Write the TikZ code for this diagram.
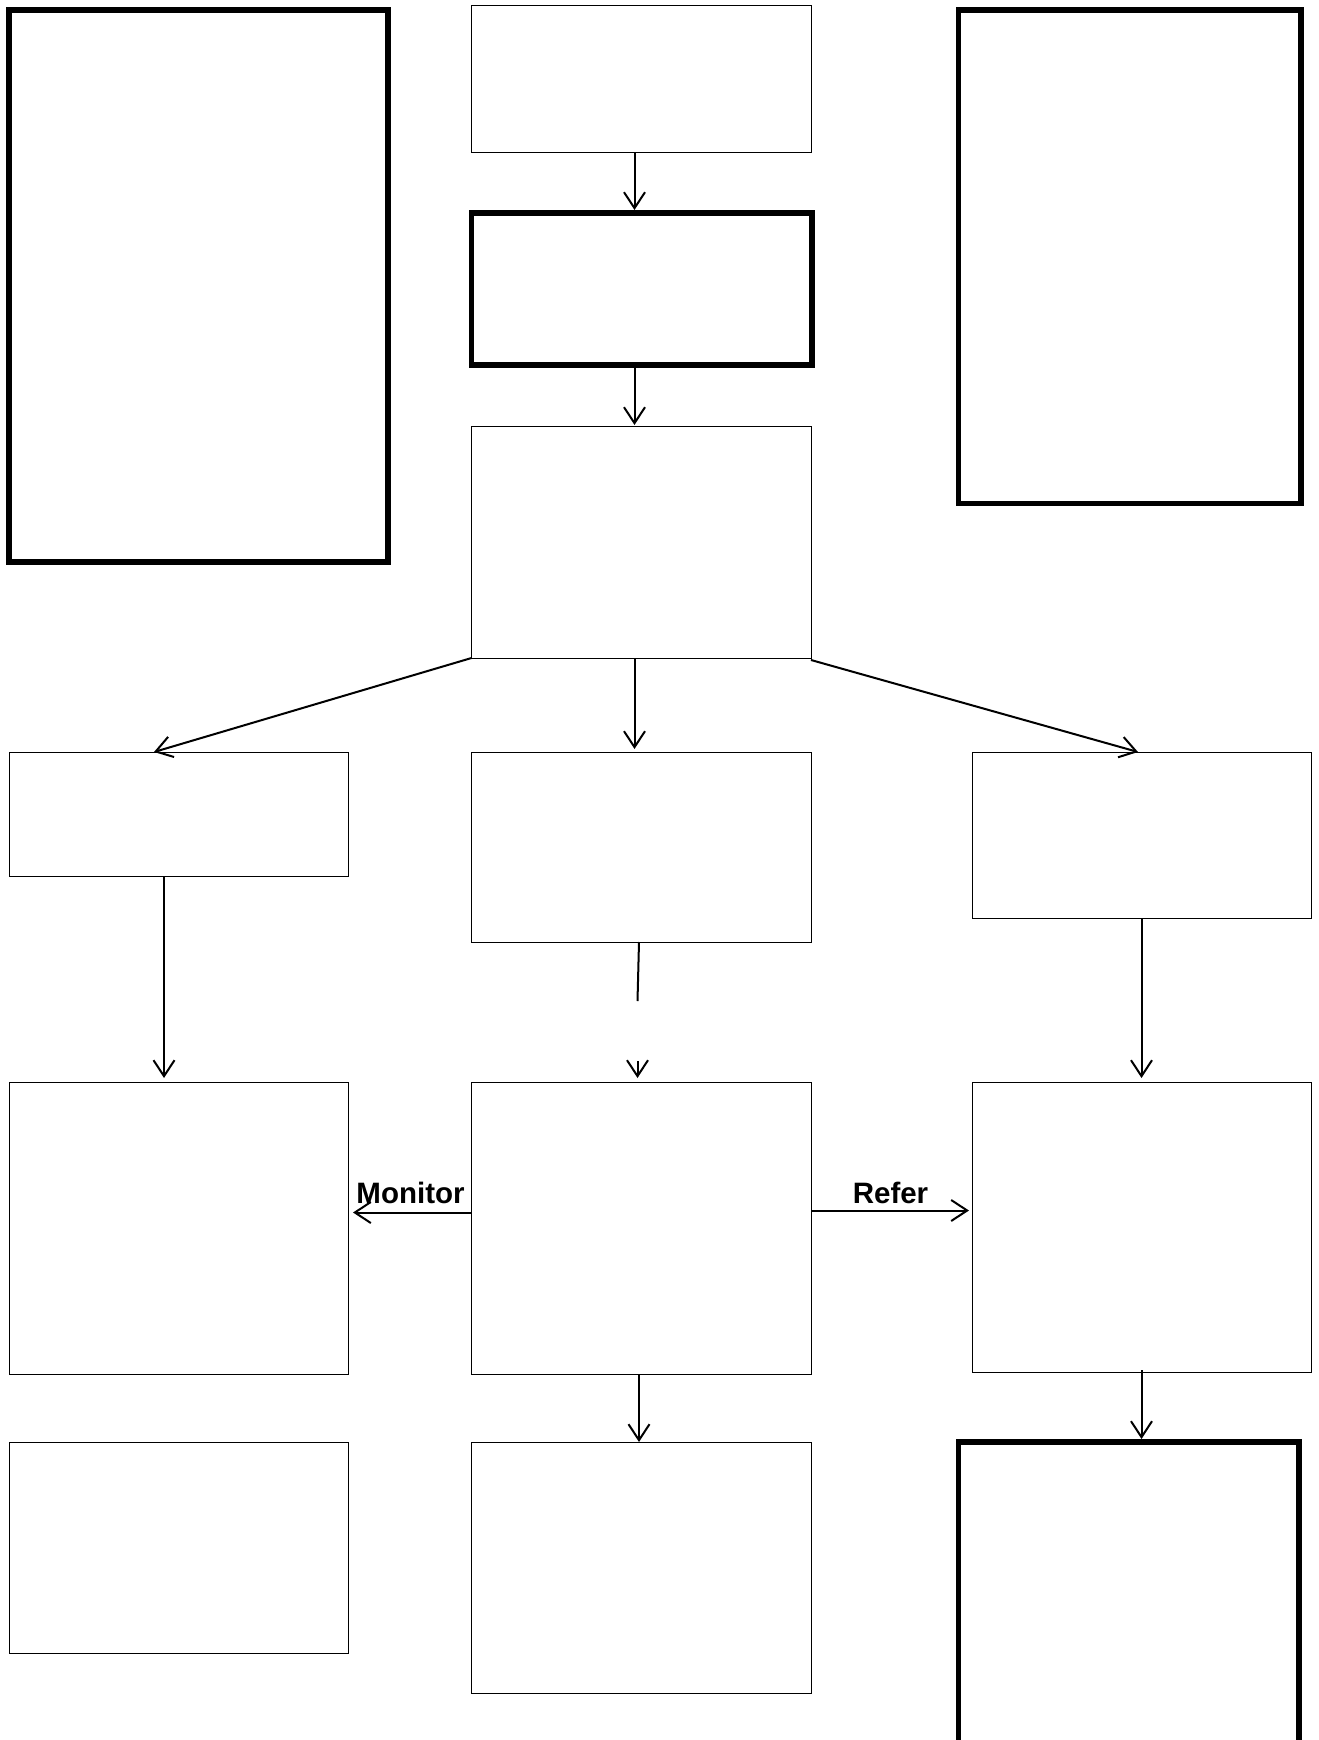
\documentclass[tikz,border=0pt]{standalone}
\usepackage{fontspec}
\setmainfont{Liberation Sans}
\usetikzlibrary{arrows.meta,calc}
\tikzset{
  box/.style={draw, line width=1pt, rectangle, inner sep=0pt, outer sep=0pt, anchor=north west},
  thickbox/.style={box, line width=5.5pt},
  conn/.style={line width=2pt, -{Straight Barb[length=16pt,width=21pt,line width=2pt]}},
  plain/.style={line width=2pt},
  lbl/.style={font=\bfseries\fontsize{29.5}{33}\selectfont, inner sep=0pt}
}
\begin{document}
\begin{tikzpicture}[x=1pt,y=-1pt]
\clip (0,0) rectangle (1319,1740);
\fill[white] (0,0) rectangle (1319,1740);
% top row
\node[thickbox, minimum width=379pt, minimum height=552pt] (lbox) at (9,10) {};
\node[box, minimum width=339.5pt, minimum height=146.5pt] (tbox) at (471.5,5.5) {};
\node[thickbox, minimum width=340.5pt, minimum height=152pt] (box2) at (471.5,213) {};
\node[box, minimum width=339.5pt, minimum height=232pt] (box3) at (471.5,426) {};
\node[thickbox, minimum width=342.5pt, minimum height=493.5pt] (rbox) at (958.5,10) {};
% row 2
\node[box, minimum width=339pt, minimum height=124pt] (l2) at (9,752) {};
\node[box, minimum width=339.5pt, minimum height=190pt] (c2) at (471.5,752) {};
\node[box, minimum width=339pt, minimum height=166.5pt] (r2) at (972,752) {};
% row 3
\node[box, minimum width=339pt, minimum height=292.5pt] (l3) at (9,1082) {};
\node[box, minimum width=339.5pt, minimum height=292.5pt] (c3) at (471.5,1082) {};
\node[box, minimum width=339pt, minimum height=290pt] (r3) at (972,1082) {};
% row 4
\node[box, minimum width=339pt, minimum height=211pt] (l4) at (9,1442) {};
\node[box, minimum width=339.5pt, minimum height=251pt] (c4) at (471.5,1442) {};
\node[thickbox, minimum width=340.5pt, minimum height=330pt] (r4) at (958.5,1442) {};

% connectors
\draw[conn] ($(tbox.south west)+(163,0)$) -- ($(box2.north west)+(163,-3)$);
\draw[conn] ($(box2.south west)+(163,3)$) -- ($(box3.north west)+(163,-1)$);
\draw[conn] (box3.south west) -- ($(l2.north west)+(145,0)$);
\draw[conn] ($(box3.south west)+(163,0)$) -- ($(c2.north west)+(163,-3)$);
\draw[conn] ($(box3.south east)+(0,2)$) -- ($(r2.north west)+(166,0)$);
\draw[conn] ($(l2.south west)+(155,0)$) -- ($(l3.north west)+(155,-4)$);
\coordinate (cbreak) at ($(c2.south west)+(166,59)$);
\coordinate (cstub) at ($(c3.north west)+(166,-21)$);
\draw[plain] ($(c2.south west)+(167.5,0)$) -- (cbreak);
\draw[conn] (cstub) -- ($(c3.north west)+(166,-4)$);
\draw[conn] (r2.south) -- ($(r3.north)+(0,-4)$);
\draw[conn] ($(c3.north west)+(0,130.5)$) -- ($(l3.north east)+(5,130.5)$);
\draw[conn] ($(c3.north east)+(0,128.5)$) -- ($(r3.north west)+(-3,128.5)$);
\draw[conn] ($(c3.south west)+(167.5,0)$) -- ($(c4.north west)+(167.5,0)$);
\draw[conn] ($(r3.south)+(0,-2)$) -- ($(r4.north west)+(183,-3)$);

% labels
\node[lbl] (mon) at (410.5,1192.5) {Monitor};
\node[lbl] (ref) at (890.5,1192.5) {Refer};
\end{tikzpicture}
\end{document}
